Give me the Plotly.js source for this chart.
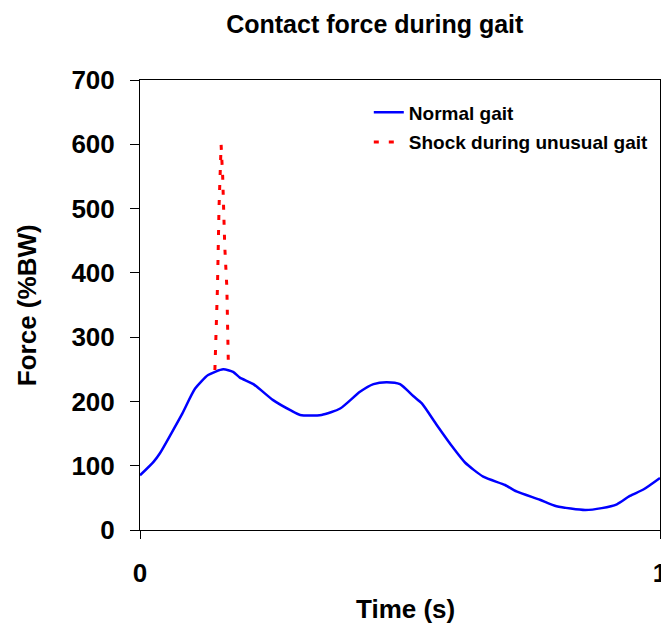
<!DOCTYPE html>
<html>
<head>
<meta charset="utf-8">
<script src="https://cdn.plot.ly/plotly-3.0.1.min.js"></script>
<style>html,body{margin:0;padding:0;background:#fff;}#chart{width:661px;height:626px;}</style>
</head>
<body>
<div id="chart"></div>
<script>
// Normal gait contact force (%BW) over time (s)
var normalTime = [0, 0.026, 0.038, 0.06, 0.080, 0.106, 0.131, 0.160, 0.179, 0.192, 0.218, 0.256, 0.29, 0.308, 0.349, 0.385, 0.423, 0.449, 0.474, 0.5, 0.526, 0.542, 0.571, 0.603, 0.625, 0.660, 0.702, 0.724, 0.769, 0.801, 0.856, 0.888, 0.917, 0.942, 0.968, 1.0];
var normalForce = [85, 106, 119, 150, 179, 220, 241, 250, 246, 237, 227, 202, 186, 179, 179, 189, 215, 227, 230, 227, 208, 197, 163, 127, 105, 83, 70, 60, 47, 37, 31, 34, 40, 53, 63, 81];
// Shock during unusual gait
var shockTime = [0.144, 0.149, 0.152, 0.156, 0.159, 0.163, 0.167, 0.170];
var shockForce = [249, 378, 503, 599, 550, 441, 378, 254];

var seriesNames = ["Normal gait", "Shock during unusual gait"];
var chartTitle = "Contact force during gait";
var xTitle = "Time (s)";
var yTitle = "Force (%BW)";
var xTicks = [0, 1];
var yTicks = [0, 100, 200, 300, 400, 500, 600, 700];

var FONT = "Liberation Sans, Arial, sans-serif";

var traces = [
  {x: normalTime, y: normalForce, name: seriesNames[0], type: "scatter", mode: "lines",
   line: {color: "#0000FF", width: 2.5, shape: "spline", smoothing: 0.6}, legendgroup: "a"},
  {x: shockTime, y: shockForce, name: seriesNames[1], type: "scatter", mode: "lines",
   line: {color: "#FF0000", width: 3, dash: "5px,10px"}, legendgroup: "b"}
];

var layout = {
  width: 661, height: 626,
  margin: {l: 140, r: 1, t: 80, b: 96},
  paper_bgcolor: "#ffffff", plot_bgcolor: "#ffffff",
  font: {family: FONT, color: "#000", weight: "bold"},
  title: {text: chartTitle, font: {family: FONT, size: 25, weight: "bold", color: "#000"},
          x: 0.567, xref: "container", xanchor: "center", y: 0.962, yref: "container", yanchor: "middle"},
  showlegend: true,
  legend: {x: 0.44, y: 0.97, xanchor: "left", yanchor: "top", bgcolor: "rgba(0,0,0,0)",
           font: {family: FONT, size: 19, weight: "bold", color: "#000"}, tracegroupgap: 2},
  xaxis: {range: [0, 1], tickvals: xTicks, ticktext: xTicks.map(String), ticks: "outside", ticklen: 8,
          tickcolor: "#000", showline: true, mirror: true, linecolor: "#000", linewidth: 1,
          showgrid: false, zeroline: false, ticklabelstandoff: 12, ticklabeloverflow: "allow",
          tickfont: {family: FONT, size: 26, weight: "bold", color: "#000"}},
  yaxis: {range: [0, 700], tickvals: yTicks, ticks: "outside", ticklen: 9,
          tickcolor: "#000", showline: true, mirror: true, linecolor: "#000", linewidth: 1,
          showgrid: false, zeroline: false, ticklabelstandoff: 10,
          tickfont: {family: FONT, size: 26, weight: "bold", color: "#000"}},
  annotations: [
    {text: xTitle, xref: "paper", yref: "paper", x: 0.5115, y: -0.1756, xanchor: "center", yanchor: "middle",
     showarrow: false, font: {family: FONT, size: 26, weight: "bold", color: "#000"}},
    {text: yTitle, xref: "paper", yref: "paper", x: -0.217, y: 0.5, xanchor: "center", yanchor: "middle",
     textangle: -90, showarrow: false, font: {family: FONT, size: 26, weight: "bold", color: "#000"}}
  ]
};

Plotly.newPlot("chart", traces, layout, {displayModeBar: false, staticPlot: true});
</script>
</body>
</html>
